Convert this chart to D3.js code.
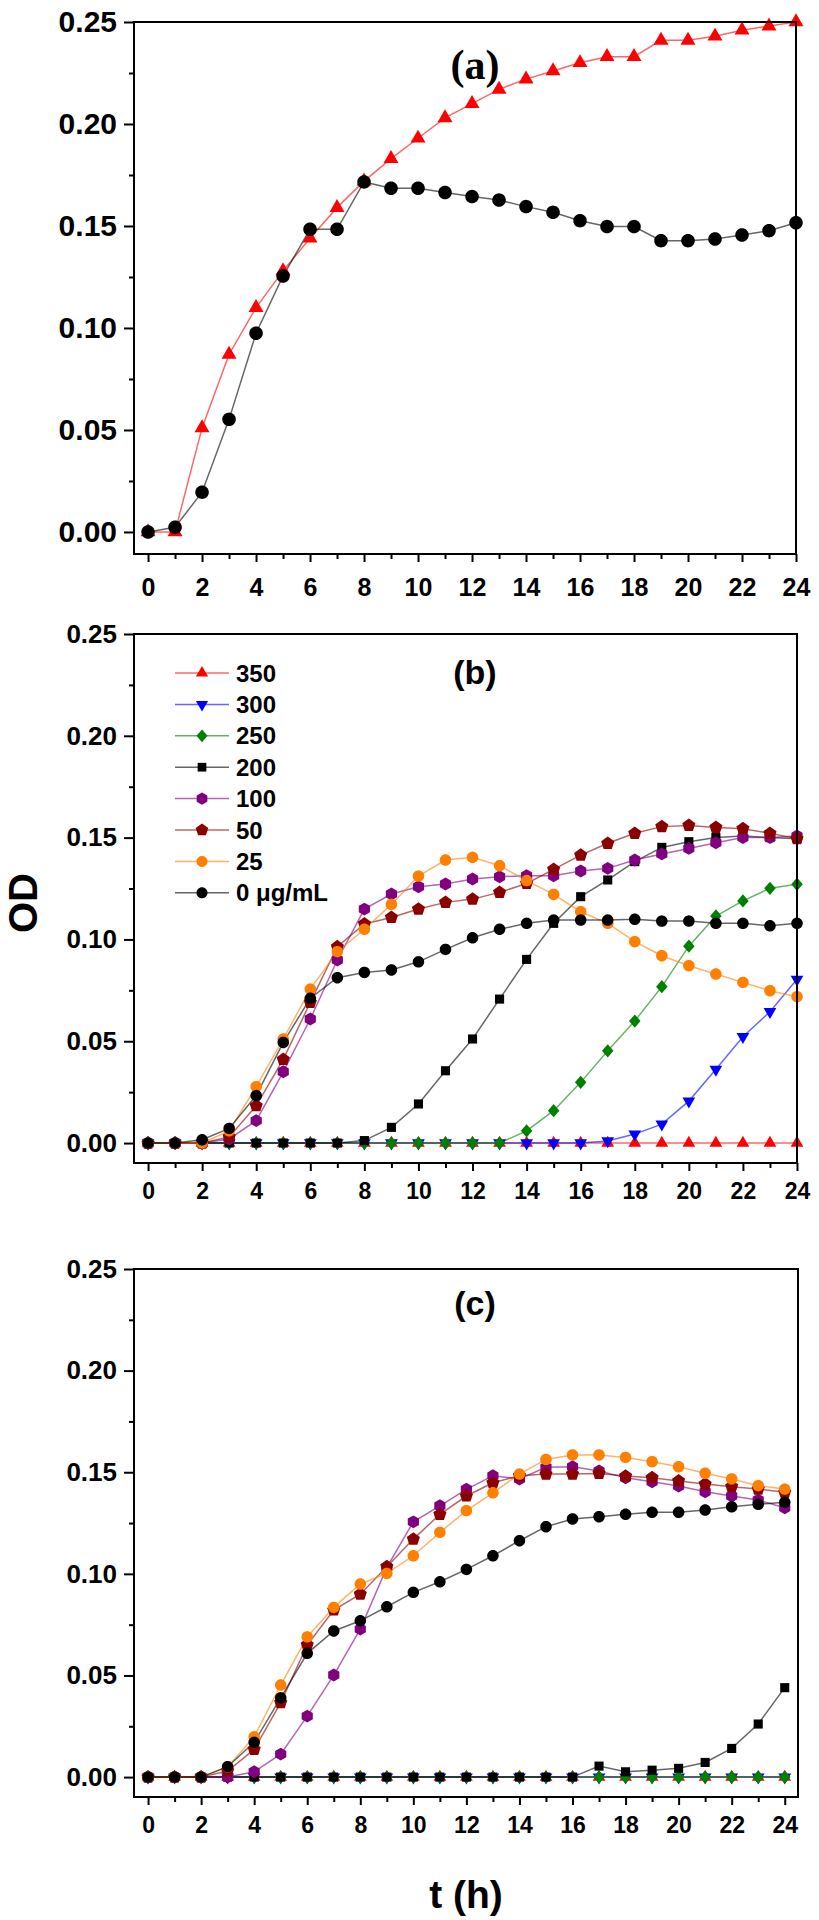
<!DOCTYPE html>
<html>
<head>
<meta charset="utf-8">
<script src="https://cdn.jsdelivr.net/npm/d3@7"></script>
<style>
  html, body { margin: 0; padding: 0; background: #ffffff; }
  svg { display: block; }
  text { font-family: "Liberation Sans", Arial, sans-serif; font-weight: bold; fill: #000; }
</style>
</head>
<body>
<svg id="chart" width="819" height="1920"></svg>
<script>
// ---------------- DATA ----------------
const hours = [0,1,2,3,4,5,6,7,8,9,10,11,12,13,14,15,16,17,18,19,20,21,22,23,24];
const xTickLabels = [0,2,4,6,8,10,12,14,16,18,20,22,24];
const yTickLabels = [0.00,0.05,0.10,0.15,0.20,0.25];
const legendLabels = ["350","300","250","200","100","50","25","0 \u03bcg/mL"];
const panelLabels = ["(a)","(b)","(c)"];

// panel (a)
const a_tri = [0,0,0.051,0.087,0.110,0.128,0.144,0.159,0.172,0.183,0.193,0.203,0.210,0.217,0.222,0.226,0.230,0.233,0.233,0.241,0.241,0.243,0.246,0.248,0.250];
const a_circ = [0,0.0023,0.0195,0.0552,0.0974,0.1255,0.1484,0.1484,0.1716,0.1685,0.1685,0.1664,0.1644,0.1627,0.1595,0.1567,0.1526,0.1497,0.1497,0.1428,0.1428,0.1436,0.1456,0.1477,0.1516];

// panel (b)
const b_350 = [0,0,0,0,0,0,0,0,0,0,0,0,0,0,0,0,0,0,0,0,0,0,0,0,0];
const b_300 = [0,0,0,0,0,0,0,0,0,0,0,0,0,0,0,0,0,0.001,0.0044,0.0093,0.0206,0.0362,0.0522,0.0645,0.0804];
const b_250 = [0,0,0,0,0,0,0,0,0,0,0,0,0,0,0.006,0.0159,0.0298,0.0453,0.0599,0.0768,0.0967,0.1115,0.1189,0.1251,0.1271];
const b_200 = [0,0,0,0,0,0,0,0,0.0012,0.0077,0.0192,0.0355,0.0511,0.0707,0.0902,0.1079,0.121,0.1292,0.1382,0.1452,0.148,0.150,0.1508,0.150,0.1495];
const b_100 = [0,0,0,0.002,0.011,0.035,0.0609,0.0899,0.1149,0.1223,0.1259,0.1272,0.1297,0.1308,0.1313,0.1313,0.1336,0.1349,0.139,0.142,0.1447,0.1475,0.150,0.150,0.1508];
const b_50  = [0,0,0,0.003,0.0183,0.0411,0.0691,0.0964,0.1076,0.1108,0.1149,0.1182,0.1198,0.1231,0.1275,0.1344,0.1414,0.1472,0.1521,0.1554,0.156,0.155,0.1544,0.1521,0.1495];
const b_25  = [0,0,0,0.006,0.0277,0.0511,0.0756,0.094,0.105,0.1172,0.1311,0.139,0.1403,0.1362,0.1289,0.1221,0.1136,0.1079,0.0989,0.092,0.0871,0.083,0.0789,0.0748,0.0719];
const b_0   = [0,0,0.0016,0.0072,0.0233,0.0494,0.0711,0.0812,0.0838,0.085,0.089,0.0951,0.1008,0.105,0.1079,0.1095,0.1095,0.1095,0.1099,0.109,0.109,0.1079,0.1079,0.1067,0.1079];

// panel (c)
const c_350 = [0,0,0,0,0,0,0,0,0,0,0,0,0,0,0,0,0,0,0,0,0,0,0,0,0];
const c_300 = [0,0,0,0,0,0,0,0,0,0,0,0,0,0,0,0,0,0,0,0,0,0,0,0,0];
const c_250 = [0,0,0,0,0,0,0,0,0,0,0,0,0,0,0,0,0,0,0,0,0,0,0,0,0];
const c_200 = [0,0,0,0,0,0,0,0,0,0,0,0,0,0,0,0,0,0.0054,0.0026,0.0034,0.0043,0.0072,0.0141,0.0261,0.044];
const c_100 = [0,0,0,0,0.0026,0.0113,0.030,0.0502,0.0728,0.1032,0.1256,0.1335,0.1416,0.1483,0.1467,0.1524,0.1527,0.1506,0.1473,0.1453,0.1432,0.1404,0.1383,0.1363,0.1325];
const c_50  = [0,0,0,0.003,0.0136,0.0366,0.065,0.0822,0.090,0.1035,0.1171,0.1293,0.1383,0.1448,0.1483,0.1491,0.1491,0.1494,0.1481,0.1473,0.1457,0.1442,0.1429,0.1417,0.1401];
const c_25  = [0,0,0,0.005,0.0198,0.0453,0.069,0.0835,0.095,0.1002,0.1089,0.1204,0.1311,0.1399,0.1491,0.1563,0.1585,0.1585,0.1573,0.1552,0.1527,0.1495,0.1467,0.1434,0.1417];
const c_0   = [0,0,0,0.0051,0.0171,0.039,0.0609,0.0719,0.0769,0.0838,0.0909,0.0961,0.1022,0.1089,0.1163,0.1232,0.127,0.1281,0.1293,0.1303,0.1303,0.1314,0.133,0.1342,0.1352];

// ---------------- STYLE ----------------
const styles = {
  "350": {color: "#ff0000", shape: "triUp"},
  "300": {color: "#0000ff", shape: "triDown"},
  "250": {color: "#008000", shape: "diamond"},
  "200": {color: "#000000", shape: "square"},
  "100": {color: "#800080", shape: "hexagon"},
  "50":  {color: "#8b0000", shape: "pentagon"},
  "25":  {color: "#ff8000", shape: "circle"},
  "0":   {color: "#000000", shape: "circle"}
};
const keys = ["350","300","250","200","100","50","25","0"];

function polygon(n, r, rot) {
  const pts = [];
  for (let i = 0; i < n; i++) {
    const a = rot + i * 2 * Math.PI / n;
    pts.push([r * Math.cos(a), r * Math.sin(a)]);
  }
  return "M" + pts.map(p => p[0].toFixed(2) + "," + p[1].toFixed(2)).join("L") + "Z";
}
function shapePath(shape, s) {
  switch (shape) {
    case "circle": return polygon(40, s * 0.5, 0);
    case "triUp": return polygon(3, s * 0.64, -Math.PI / 2);
    case "triDown": return polygon(3, s * 0.64, Math.PI / 2);
    case "diamond": return "M0," + (-s*0.58) + "L" + (s*0.5) + ",0L0," + (s*0.58) + "L" + (-s*0.5) + ",0Z";
    case "square": return polygon(4, s * 0.56, Math.PI / 4);
    case "hexagon": return polygon(6, s * 0.56, -Math.PI / 2);
    case "pentagon": return polygon(5, s * 0.6, -Math.PI / 2);
  }
}

const svg = d3.select("#chart");
svg.append("rect").attr("width", 819).attr("height", 1920).attr("fill", "#fff");

const panels = [
  {label: panelLabels[0], xDom: [-0.52, 24], xRange: [134, 796], yDom: [-0.0108, 0.25], yRange: [554, 22],
   yFont: 30, xFont: 25, xLabelY: 587, markerSize: 13.5, labelFont: "Liberation Serif", labelSize: 42, labelY: 79,
   series: [{key: "350", vals: a_tri}, {key: "0", vals: a_circ}]},
  {label: panelLabels[1], xDom: [-0.52, 24], xRange: [134, 797], yDom: [-0.0098, 0.25], yRange: [1163, 634],
   yFont: 26, xFont: 23, xLabelY: 1191, markerSize: 11.5, labelFont: "Liberation Sans", labelSize: 34, labelY: 684,
   series: [{key:"350",vals:b_350},{key:"300",vals:b_300},{key:"250",vals:b_250},{key:"200",vals:b_200},
            {key:"100",vals:b_100},{key:"50",vals:b_50},{key:"25",vals:b_25},{key:"0",vals:b_0}]},
  {label: panelLabels[2], xDom: [-0.53, 24.5], xRange: [134, 798], yDom: [-0.0098, 0.25], yRange: [1797, 1269],
   yFont: 26, xFont: 23, xLabelY: 1825, markerSize: 11.5, labelFont: "Liberation Sans", labelSize: 34, labelY: 1315,
   series: [{key:"350",vals:c_350},{key:"300",vals:c_300},{key:"250",vals:c_250},{key:"200",vals:c_200},
            {key:"100",vals:c_100},{key:"50",vals:c_50},{key:"25",vals:c_25},{key:"0",vals:c_0}]}
];

const yMinor = [0.025,0.075,0.125,0.175,0.225];
const xMinor = [1,3,5,7,9,11,13,15,17,19,21,23];

panels.forEach((p, pi) => {
  const x = d3.scaleLinear().domain(p.xDom).range(p.xRange);
  const y = d3.scaleLinear().domain(p.yDom).range(p.yRange);
  const g = svg.append("g");
  const left = p.xRange[0], right = p.xRange[1], top = p.yRange[1], bottom = p.yRange[0];

  // data series
  const line = d3.line().x((d, i) => x(hours[i])).y(d => y(d));
  p.series.forEach(s => {
    const st = styles[s.key];
    g.append("path").datum(s.vals).attr("d", line)
      .attr("fill", "none").attr("stroke", st.color).attr("stroke-opacity", 0.6)
      .attr("stroke-width", 1.5);
  });
  p.series.forEach(s => {
    const st = styles[s.key];
    g.selectAll(null).data(s.vals).enter().append("path")
      .attr("d", shapePath(st.shape, p.markerSize))
      .attr("transform", (d, i) => `translate(${x(hours[i])},${y(d)})`)
      .attr("fill", st.color);
  });

  // y axis majors
  const yAxis = d3.axisLeft(y).tickValues(yTickLabels).tickSize(10).tickPadding(7).tickFormat(d3.format(".2f"));
  const ya = g.append("g").attr("transform", `translate(${left},0)`).call(yAxis);
  ya.select(".domain").remove();
  ya.selectAll("line").attr("stroke", "#000").attr("stroke-width", 2);
  ya.selectAll("text").style("font-size", p.yFont + "px").style("font-weight", "bold")
    .attr("font-family", "Liberation Sans, Arial, sans-serif");
  const yam = g.append("g").attr("transform", `translate(${left},0)`)
    .call(d3.axisLeft(y).tickValues(yMinor).tickSize(5).tickFormat(""));
  yam.select(".domain").remove();
  yam.selectAll("line").attr("stroke", "#000").attr("stroke-width", 2);

  // x axis
  const xAxis = d3.axisBottom(x).tickValues(xTickLabels).tickSize(8).tickFormat(d3.format("d"));
  const xa = g.append("g").attr("transform", `translate(0,${bottom})`).call(xAxis);
  xa.select(".domain").remove();
  xa.selectAll("line").attr("stroke", "#000").attr("stroke-width", 2);
  xa.selectAll("text").attr("y", null).attr("dy", null)
    .attr("transform", `translate(0,${p.xLabelY - bottom})`)
    .attr("dominant-baseline", "central")
    .style("font-size", p.xFont + "px").style("font-weight", "bold");
  const xam = g.append("g").attr("transform", `translate(0,${bottom})`)
    .call(d3.axisBottom(x).tickValues(xMinor).tickSize(5).tickFormat(""));
  xam.select(".domain").remove();
  xam.selectAll("line").attr("stroke", "#000").attr("stroke-width", 2);

  // frame
  g.append("rect").attr("x", left).attr("y", top).attr("width", right - left).attr("height", bottom - top)
    .attr("fill", "none").attr("stroke", "#000").attr("stroke-width", 2);

  // panel label
  g.append("text").attr("x", 475).attr("y", p.labelY).attr("text-anchor", "middle")
    .style("font-family", p.labelFont).style("font-size", p.labelSize + "px").style("font-weight", "bold")
    .text(p.label);

  // legend in panel b
  if (pi === 1) {
    const lg = g.append("g");
    keys.forEach((k, i) => {
      const st = styles[k];
      const yy = 673 + i * 31.4;
      lg.append("line").attr("x1", 175).attr("x2", 229).attr("y1", yy).attr("y2", yy)
        .attr("stroke", st.color).attr("stroke-opacity", 0.6).attr("stroke-width", 1.5);
      lg.append("path").attr("d", shapePath(st.shape, 11)).attr("transform", `translate(202,${yy})`)
        .attr("fill", st.color);
      lg.append("text").attr("x", 236).attr("y", yy).attr("dominant-baseline", "central")
        .style("font-size", "24px").text(legendLabels[i]);
    });
  }
});

// axis titles
svg.append("text").attr("transform", "translate(23,903) rotate(-90)").attr("text-anchor", "middle")
  .attr("dominant-baseline", "central").style("font-size", "40px").text("OD");
svg.append("text").attr("x", 466).attr("y", 1908).attr("text-anchor", "middle")
  .style("font-size", "39px").text("t (h)");
</script>
</body>
</html>
